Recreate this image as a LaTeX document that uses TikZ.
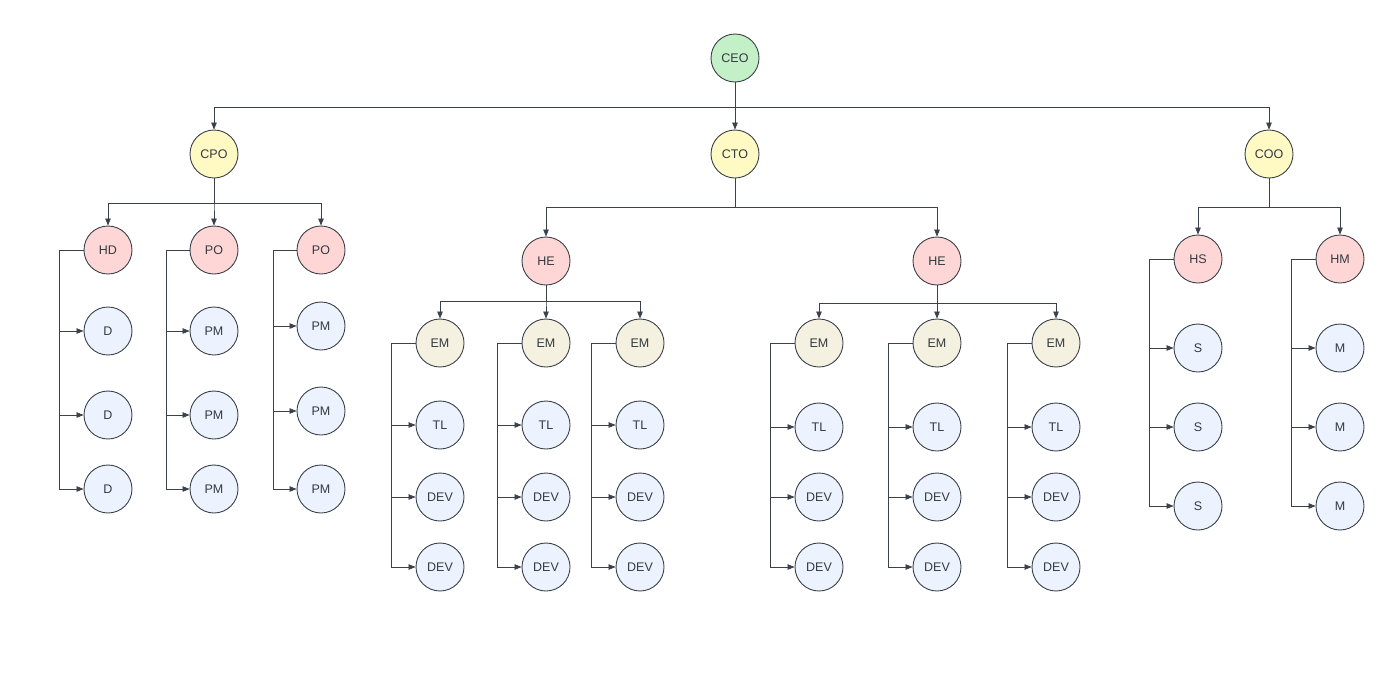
\documentclass[tikz,border=0pt]{standalone}
\usepackage{fontspec}
\setmainfont{Liberation Sans}
\usetikzlibrary{arrows.meta, positioning}

\definecolor{linegray}{RGB}{58,65,74}
\definecolor{txtgray}{RGB}{51,58,64}
\definecolor{ceofill}{RGB}{196,240,200}
\definecolor{cxofill}{RGB}{255,250,196}
\definecolor{headfill}{RGB}{255,214,214}
\definecolor{emfill}{RGB}{245,241,225}
\definecolor{leaffill}{RGB}{236,243,254}

\begin{document}
\begin{tikzpicture}
		[x=1pt,y=-1pt,
	pers/.style={draw=linegray,circle,line width=0.9pt,minimum size=48pt,inner sep=0pt,font=\fontsize{12.5}{12.5}\selectfont,text=txtgray},
	top/.style={pers,fill=ceofill},
	cxo/.style={pers,fill=cxofill},
	head/.style={pers,fill=headfill},
	mgr/.style={pers,fill=emfill},
	leaf/.style={pers,fill=leaffill},
	conn/.style={draw=linegray,line width=0.7pt,-{Triangle[length=7pt,width=5.5pt]}}
	]
		\useasboundingbox (0,0) rectangle (1400,675);
		% top level
		\node (ceo) [top] at (735,58) {CEO};
		\node (cpo) [cxo] at (214,154) {CPO};
		\node (cto) [cxo] at (735,154) {CTO};
		\node (coo) [cxo] at (1269,154) {COO};
		% CPO branch
		\node (hd) [head] at (108,250) {HD};
		\node (poa) [head] at (214,250) {PO};
		\node (pob) [head] at (321,250) {PO};
		\node (da) [leaf] at (108,331) {D};
		\node (db) [leaf] at (108,415) {D};
		\node (dc) [leaf] at (108,489) {D};
		\node (pmaa) [leaf] at (214,331) {PM};
		\node (pmab) [leaf] at (214,415) {PM};
		\node (pmac) [leaf] at (214,489) {PM};
		\node (pmba) [leaf] at (321,326) {PM};
		\node (pmbb) [leaf] at (321,411) {PM};
		\node (pmbc) [leaf] at (321,489) {PM};
		% CTO branch
		\node (hea) [head] at (546,261) {HE};
		\node (heb) [head] at (937,261) {HE};
		\node (ema) [mgr] at (440,343) {EM};
		\node (emb) [mgr] at (546,343) {EM};
		\node (emc) [mgr] at (640,343) {EM};
		\node (emd) [mgr] at (819,343) {EM};
		\node (eme) [mgr] at (937,343) {EM};
		\node (emf) [mgr] at (1056,343) {EM};
		\foreach \e/\x/\t in {ema/440/425, emb/546/425, emc/640/425, emd/819/427, eme/937/427, emf/1056/427} {
			\node (\e tl) [leaf] at (\x,\t) {TL};
			\node (\e da) [leaf] at (\x,497) {DEV};
			\node (\e db) [leaf] at (\x,567) {DEV};
		}
		% COO branch
		\node (hs) [head] at (1198,259) {HS};
		\node (hm) [head] at (1340,259) {HM};
		\node (sa) [leaf] at (1198,348) {S};
		\node (sb) [leaf] at (1198,427) {S};
		\node (sc) [leaf] at (1198,506) {S};
		\node (ma) [leaf] at (1340,348) {M};
		\node (mb) [leaf] at (1340,427) {M};
		\node (mc) [leaf] at (1340,506) {M};

		% buses
		\draw [conn] (ceo.south) -- ++(0,25) -| (cpo);
		\draw [conn] (ceo.south) -- (cto);
		\draw [conn] (ceo.south) -- ++(0,25) -| (coo);
		\foreach \c in {hd, poa, pob}
			\draw [conn] (cpo.south) -- ++(0,25) -| (\c);
		\foreach \c in {hea, heb}
			\draw [conn] (cto.south) -- ++(0,29) -| (\c);
		\foreach \c in {hs, hm}
			\draw [conn] (coo.south) -- ++(0,29) -| (\c);
		\foreach \c in {ema, emb, emc}
			\draw [conn] (hea.south) -- ++(0,16) -| (\c);
		\foreach \c in {emd, eme, emf}
			\draw [conn] (heb.south) -- ++(0,18) -| (\c);

		% side lines to leaves
		\foreach \c in {da, db, dc}
			\draw [conn] (hd.west) -- ++(-24,0) |- (\c);
		\foreach \c in {pmaa, pmab, pmac}
			\draw [conn] (poa.west) -- ++(-23,0) |- (\c);
		\foreach \c in {pmba, pmbb, pmbc}
			\draw [conn] (pob.west) -- ++(-23,0) |- (\c);
		\foreach \e in {ema, emb, emc, emd, eme, emf}
			\foreach \c in {tl, da, db}
				\draw [conn] (\e.west) -- ++(-24,0) |- (\e\c);
		\foreach \c in {sa, sb, sc}
			\draw [conn] (hs.west) -- ++(-24,0) |- (\c);
		\foreach \c in {ma, mb, mc}
			\draw [conn] (hm.west) -- ++(-24,0) |- (\c);
	\end{tikzpicture}
\end{document}
